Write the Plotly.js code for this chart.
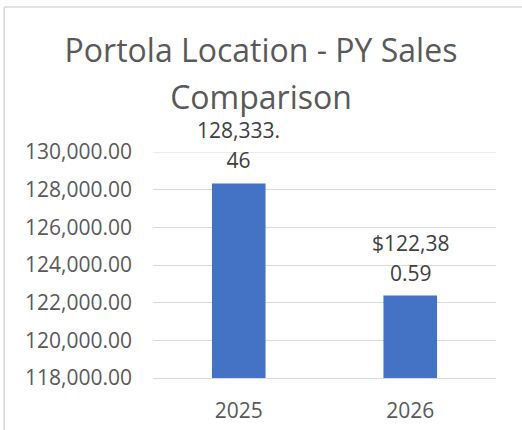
<!DOCTYPE html>
<html>
<head>
<meta charset="utf-8">
<script src="https://cdn.plot.ly/plotly-3.0.1.min.js"></script>
<style>
  html, body { margin: 0; padding: 0; background: #ffffff; }
  #chart { width: 522px; height: 430px; }
</style>
</head>
<body>
<div id="chart"></div>
<script>
// ---- data ----
const categories = ["2025", "2026"];
const sales = [128333.46, 122380.59];
const dataLabels = ["128,333.<br>46", "$122,38<br>0.59"];
const yTickValues = [118000, 120000, 122000, 124000, 126000, 128000, 130000];
const yTickLabels = ["118,000.00", "120,000.00", "122,000.00", "124,000.00", "126,000.00", "128,000.00", "130,000.00"];
const chartTitleLines = ["Portola Location - PY Sales", "Comparison"];

const FONT = "'Open Sans', 'Noto Sans', sans-serif";
const grey = "#595959";
const gridColor = "#d9d9d9";
const yMin = yTickValues[0];
const yMax = yTickValues[yTickValues.length - 1];

const trace = {
  type: "bar",
  x: categories,
  y: sales,
  marker: { color: "#4472C4", line: { width: 0 } },
  hoverinfo: "none"
};

const annotations = categories.map((c, i) => ({
  x: i,
  y: sales[i],
  xref: "x",
  yref: "y",
  text: dataLabels[i].split("<br>").map(s => '<span style="font-size:21px">' + s + '</span>').join("<br>"),
  showarrow: false,
  yanchor: "bottom",
  xanchor: "center",
  yshift: 7,
  font: { family: FONT, size: 23, color: "#404040" }
}));

const layout = {
  width: 522,
  height: 430,
  margin: { l: 153, r: 26, t: 152, b: 52 },
  paper_bgcolor: "#ffffff",
  plot_bgcolor: "#ffffff",
  showlegend: false,
  bargap: 0.6875,
  title: {
    text: chartTitleLines.map(s => '<span style="font-size:32px">' + s + '</span>').join("<br>"),
    font: { family: FONT, size: 36, color: grey },
    x: 0.5,
    xref: "container",
    xanchor: "center",
    y: 1 - 62 / 430,
    yref: "container",
    yanchor: "top"
  },
  xaxis: {
    type: "category",
    range: [-0.5, 1.5],
    autorange: false,
    showgrid: false,
    showline: true,
    linecolor: gridColor,
    linewidth: 1,
    ticks: "",
    ticklabelstandoff: 14,
    tickfont: { family: FONT, size: 21, color: grey },
    fixedrange: true
  },
  yaxis: {
    range: [yMin, yMax],
    autorange: false,
    tickmode: "array",
    tickvals: yTickValues,
    ticktext: yTickLabels,
    showgrid: true,
    gridcolor: gridColor,
    gridwidth: 1,
    zeroline: false,
    showline: false,
    ticks: "",
    ticklabelstandoff: 20,
    tickfont: { family: FONT, size: 21, color: grey },
    fixedrange: true
  },
  annotations: annotations,
  shapes: [
    { type: "line", xref: "paper", yref: "y", x0: 0, x1: 1, y0: yMax, y1: yMax, layer: "below",
      line: { color: gridColor, width: 1 } },
    { type: "line", xref: "paper", yref: "paper", x0: -0.434, x1: -0.434, y0: -1, y1: 1.6416,
      line: { color: "#d9d9d9", width: 1.5 } },
    { type: "line", xref: "paper", yref: "paper", x0: -0.434, x1: 2, y0: 1.6416, y1: 1.6416,
      line: { color: "#d9d9d9", width: 1.5 } }
  ]
};

Plotly.newPlot("chart", [trace], layout, { staticPlot: true, displayModeBar: false });
</script>
</body>
</html>
